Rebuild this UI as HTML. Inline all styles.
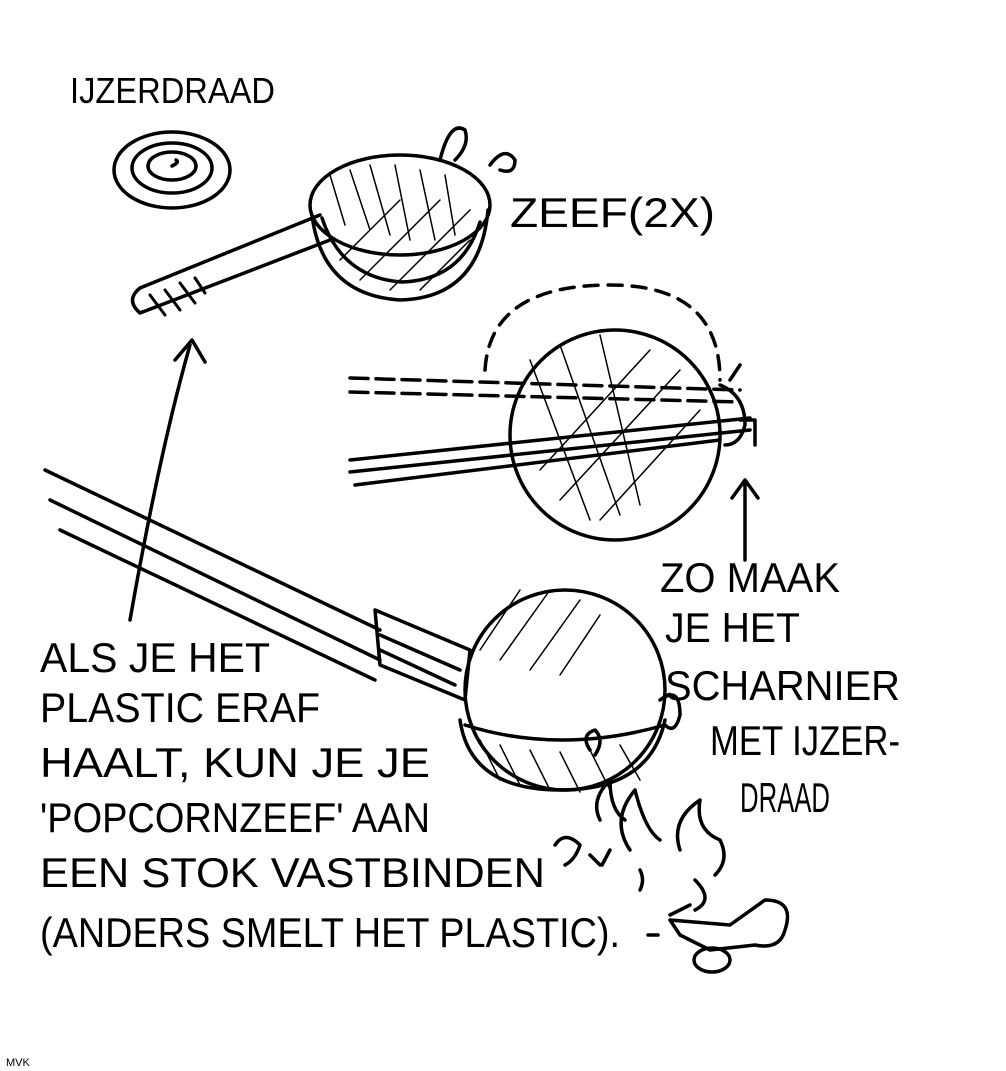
<!DOCTYPE html>
<html><head><meta charset="utf-8"><style>
html,body{margin:0;padding:0;background:#fff;}
svg{display:block}
text{font-family:"Liberation Sans",sans-serif;fill:#000}
</style></head><body>
<svg width="1006" height="1071" viewBox="0 0 1006 1071" xmlns="http://www.w3.org/2000/svg">
<g fill="none" stroke="#000" stroke-width="3.5" stroke-linecap="round" stroke-linejoin="round">
<ellipse cx="172" cy="170" rx="58" ry="38"/>
<ellipse cx="172" cy="168" rx="40" ry="25"/>
<ellipse cx="172" cy="166" rx="24" ry="14"/>
<path d="M172 166 q8 -4 4 -6"/>
<ellipse cx="400" cy="205" rx="90" ry="50"/>
<path d="M312 215 q10 80 88 85 q80 -2 88 -90"/>
<path d="M322 218 q20 60 80 64 q60 -2 78 -60"/>
<path d="M330 175 l15 50 M350 170 l20 60 M370 165 l20 70 M395 165 l15 75 M420 170 l15 70 M445 175 l10 60 M340 260 l60 -60 M360 280 l80 -80 M390 290 l80 -80 M420 290 l50 -50" stroke-width="1.5"/>
<path d="M440 160 q10 -40 25 -30 q5 15 -10 30 M490 165 q15 -20 25 -5 q0 15 -15 10"/>
<path d="M320 215 L140 288 q-15 12 0 25 L330 240"/>
<path d="M150 295 l15 20 M165 290 l15 20 M180 283 l15 20 M195 278 l10 15" stroke-width="3"/>
<path d="M130 620 Q160 450 190 345"/>
<path d="M175 360 L192 340 L205 362"/>
<circle cx="615" cy="435" r="105"/>
<path d="M485 370 Q490 285 610 285 Q720 285 720 380" stroke-dasharray="14 10"/>
<path d="M350 378 L740 390 M350 392 L740 402" stroke-dasharray="18 8"/>
<path d="M350 460 L750 418 M350 472 L750 430 M355 485 L720 440"/>
<path d="M720 385 q25 10 25 40 q-5 20 -20 20 M730 380 l10 -15 M740 420 l15 0 l0 25"/>
<path d="M530 360 l60 160 M560 345 l60 170 M600 335 l40 170 M540 470 l110 -120 M560 500 l120 -130 M600 520 l100 -110" stroke-width="1.5"/>
<path d="M745 560 L745 482 M732 498 L745 480 L758 498"/>
<path d="M45 470 L380 630 M50 500 L380 660 M60 530 L375 680"/>
<path d="M375 610 L470 650 L465 700 L380 665 Z"/>
<path d="M380 635 L460 670 M380 650 L455 685"/>
<circle cx="565" cy="690" r="100"/>
<path d="M460 720 Q470 790 560 790 Q650 790 665 720"/>
<path d="M465 725 Q560 755 665 725"/>
<path d="M480 650 l40 -60 M500 660 l50 -70 M530 670 l50 -70 M560 675 l40 -60 M480 740 l20 40 M500 745 l20 40 M530 750 l20 40 M560 752 l20 40 M590 750 l20 40 M620 745 l20 35" stroke-width="1.5"/>
<path d="M660 700 q20 -15 20 15 q-5 20 -15 10 M590 750 q-10 -15 5 -20 q10 10 0 25"/>
<path d="M600 820 q-10 -20 10 -40 q0 30 15 40 M630 850 q-20 -30 5 -60 q10 40 25 50 M680 850 q-10 -30 20 -50 q-5 30 20 40 q10 20 -5 35 M695 880 q20 20 0 30 M555 845 q10 -15 25 0 q-5 15 -15 20 M590 855 l10 10 M610 850 l-8 15 M640 870 q5 10 0 20"/>
<path d="M670 920 L730 925 L765 900 Q795 900 785 930 Q780 950 755 945 L710 950 L680 935 Z"/>
<ellipse cx="712" cy="960" rx="18" ry="12"/>
<path d="M670 915 l20 -10 M658 935 l-10 0"/>
</g>
<g font-size="42">
<text x="70" y="103" font-size="36" textLength="205" lengthAdjust="spacingAndGlyphs">IJZERDRAAD</text>
<text x="510" y="227" textLength="205" lengthAdjust="spacingAndGlyphs">ZEEF(2X)</text>
<text x="40" y="672" textLength="230" lengthAdjust="spacingAndGlyphs">ALS JE HET</text>
<text x="40" y="722" textLength="280" lengthAdjust="spacingAndGlyphs">PLASTIC ERAF</text>
<text x="40" y="777" textLength="390" lengthAdjust="spacingAndGlyphs">HAALT, KUN JE JE</text>
<text x="40" y="832" textLength="390" lengthAdjust="spacingAndGlyphs">'POPCORNZEEF' AAN</text>
<text x="40" y="887" textLength="505" lengthAdjust="spacingAndGlyphs">EEN STOK VASTBINDEN</text>
<text x="40" y="947" textLength="580" lengthAdjust="spacingAndGlyphs">(ANDERS SMELT HET PLASTIC).</text>
<text x="660" y="592" textLength="180" lengthAdjust="spacingAndGlyphs">ZO MAAK</text>
<text x="665" y="642" textLength="135" lengthAdjust="spacingAndGlyphs">JE HET</text>
<text x="665" y="700" textLength="235" lengthAdjust="spacingAndGlyphs">SCHARNIER</text>
<text x="710" y="755" textLength="190" lengthAdjust="spacingAndGlyphs">MET IJZER-</text>
<text x="740" y="812" textLength="90" lengthAdjust="spacingAndGlyphs">DRAAD</text>
<text x="6" y="1066" font-size="11">MVK</text>
</g>
</svg>
</body></html>
